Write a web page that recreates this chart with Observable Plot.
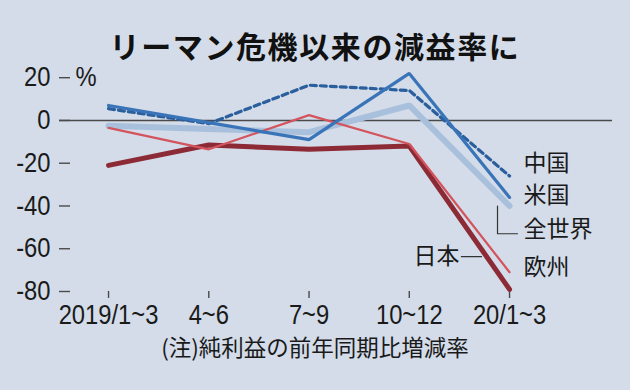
<!DOCTYPE html>
<html><head><meta charset="utf-8">
<script src="https://cdn.jsdelivr.net/npm/d3@7"></script>
<script src="https://cdn.jsdelivr.net/npm/@observablehq/plot@0.6"></script>
<style>
body{margin:0;background:#d3dce8;}
#wrap{position:relative;width:630px;height:390px;background:#d3dce8;overflow:hidden;}
#title{position:absolute;left:0;top:29px;width:630px;text-align:center;font-family:"Noto Sans CJK JP";font-weight:bold;font-size:30px;letter-spacing:1.6px;line-height:32px;color:#111;}
#note{position:absolute;left:0;top:334px;width:630px;text-align:center;font-family:"Noto Sans CJK JP";font-size:22.5px;line-height:24px;color:#1a1a1a;}
#chart{position:absolute;left:0;top:0;}
</style></head>
<body><div id="wrap"><div id="chart"></div><div id="title">リーマン危機以来の減益率に</div><div id="note">(注)純利益の前年同期比増減率</div></div>
<script>
const quarters = ["2019/1~3", "4~6", "7~9", "10~12", "20/1~3"];
const us = [7, -1, -9, 22, -36];
const china = [5.5, -1.5, 16.5, 14, -26];
const world = [-2.5, -4, -5.5, 7, -40];
const europe = [-3.5, -13.5, 2.5, -11, -71];
const japan = [-21, -11.5, -13.5, -12, -79];
const yTicks = [20, 0, -20, -40, -60, -80];
const labelNames = ["中国", "米国", "全世界", "欧州"];
const labelY = [-20.2, -35, -51, -68.9];
const japanLabelY = -63.7;

const toRows = (vals) => vals.map((v, i) => ({i, v}));
const W = 630, H = 390, mL = 59, mR = 18;
const frameW = W - mL - mR;
const numFont = "'Liberation Sans', sans-serif";
const jpFont = "'Noto Sans CJK JP', sans-serif";
const axisColor = "#4a4a4a";

const chart = Plot.plot({
  width: W, height: H,
  marginTop: 65, marginBottom: 99, marginLeft: mL, marginRight: mR,
  style: {background: "transparent", color: "#1a1a1a", fontFamily: numFont},
  x: {domain: [-0.489, 5.027]},
  y: {domain: [-80, 25.7]},
  marks: [
    Plot.ruleY([0], {stroke: axisColor, strokeWidth: 1.4}),
    Plot.tickY(yTicks, {y: d => d, stroke: axisColor, strokeWidth: 1.4, insetRight: frameW - 11}),
    Plot.axisY({ticks: yTicks, tickFormat: d => String(d), tickSize: 0, tickPadding: 9, label: null, line: true, fontSize: 27, fontFamily: numFont, stroke: axisColor, strokeWidth: 1.4}),
    Plot.axisX({ticks: [0, 1, 2, 3, 4], tickFormat: i => quarters[i], tickSize: 7, tickPadding: 6, label: null, line: true, fontSize: 27, fontFamily: numFont, stroke: axisColor, strokeWidth: 1.4}),
    Plot.text(["%"], {x: -0.489, y: 20, text: d => d, dx: 16, textAnchor: "start", fontSize: 27, fontFamily: numFont}),
    Plot.line(toRows(world), {x: "i", y: "v", stroke: "#a9c0dc", strokeWidth: 6, strokeLinejoin: "miter"}),
    Plot.line(toRows(japan), {x: "i", y: "v", stroke: "#8c2b36", strokeWidth: 5, strokeLinejoin: "miter"}),
    Plot.line(toRows(europe), {x: "i", y: "v", stroke: "#d4545e", strokeWidth: 2.2, strokeLinejoin: "miter"}),
    Plot.line(toRows(china), {x: "i", y: "v", stroke: "#2a5f9e", strokeWidth: 3.2, strokeDasharray: "6,4", strokeLinejoin: "miter"}),
    Plot.line(toRows(us), {x: "i", y: "v", stroke: "#3a74b8", strokeWidth: 3.2, strokeLinejoin: "miter"}),
    Plot.text(labelNames.map((t, k) => ({t, y: labelY[k]})), {x: 4, y: "y", text: "t", dx: 14, textAnchor: "start", fontSize: 23, fontFamily: jpFont, fill: "#1a1a1a"}),
    Plot.text(["日本"], {x: 3.5, y: japanLabelY, text: d => d, textAnchor: "end", fontSize: 23, fontFamily: jpFont, fill: "#1a1a1a"}),
    Plot.line([{x: 3.52, y: japanLabelY}, {x: 3.72, y: japanLabelY}], {x: "x", y: "y", stroke: "#333", strokeWidth: 1.2}),
    Plot.line([{x: 3.88, y: -40}, {x: 3.88, y: -53}, {x: 4.08, y: -53}], {x: "x", y: "y", stroke: "#333", strokeWidth: 1.2})
  ]
});
// condense the numeric labels horizontally, like the narrow typeface of the original
d3.select(chart).selectAll("text").each(function() {
  const s = this.textContent;
  if (/^[-0-9\/~%]+$/.test(s)) {
    const t = this.getAttribute("transform") || "";
    this.setAttribute("transform", t + " scale(0.88,1)");
  }
});
document.getElementById("chart").appendChild(chart);
</script></body></html>
